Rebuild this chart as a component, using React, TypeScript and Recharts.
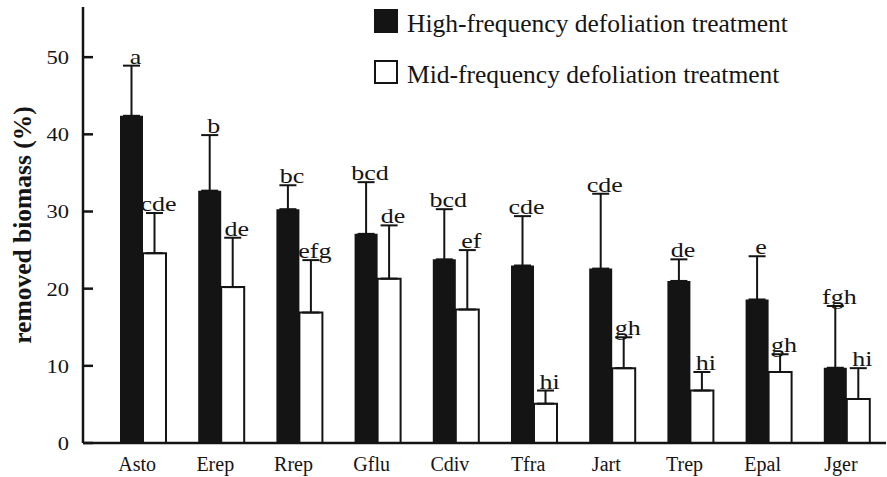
import React from 'react';
import { BarChart, Bar, XAxis, YAxis, ErrorBar, LabelList, Legend } from 'recharts';

const species = ['Asto', 'Erep', 'Rrep', 'Gflu', 'Cdiv', 'Tfra', 'Jart', 'Trep', 'Epal', 'Jger'];
const highValues = [42.4, 32.7, 30.3, 27.1, 23.8, 23.0, 22.6, 21.0, 18.6, 9.75];
const highErrors = [6.5, 7.2, 3.1, 6.7, 6.5, 6.4, 9.7, 2.8, 5.6, 8.0];
const midValues = [24.6, 20.2, 16.9, 21.3, 17.3, 5.1, 9.7, 6.8, 9.2, 5.7];
const midErrors = [5.2, 6.4, 6.8, 6.9, 7.7, 1.7, 4.0, 2.4, 2.3, 4.0];
const highLetters = ['a', 'b', 'bc', 'bcd', 'bcd', 'cde', 'cde', 'de', 'e', 'fgh'];
const midLetters = ['cde', 'de', 'efg', 'de', 'ef', 'hi', 'gh', 'hi', 'gh', 'hi'];
const yTicks = [0, 10, 20, 30, 40, 50];
const seriesNames = ['High-frequency defoliation treatment', 'Mid-frequency defoliation treatment'];
const yLabel = 'removed biomass (%)';

const data = species.map((s, i) => ({
  species: s,
  high: highValues[i],
  highErr: [0, highErrors[i]],
  mid: midValues[i],
  midErr: [0, midErrors[i]],
}));

const INK = '#141414';
const FONT = '"Liberation Serif", "Times New Roman", serif';

const makeLetterLabel = (letters: string[], values: number[], errors: number[]) => (props: any) => {
  const vb = props.viewBox && props.viewBox.x !== undefined ? props.viewBox : props;
  const idx = props.index;
  if (idx === undefined || idx === null) return null;
  const x = Number(vb.x);
  const y = Number(vb.y);
  const w = Number(vb.width);
  const h = Math.abs(Number(vb.height));
  const pxPerUnit = h / values[idx];
  const top = y - errors[idx] * pxPerUnit;
  const cx = x + w / 2 + 4;
  return (
    <text
      transform={`translate(${cx} ${top - 2}) scale(1.3 1)`}
      textAnchor="middle"
      fontFamily={FONT}
      fontSize={20}
      fill={INK}
    >
      {letters[idx]}
    </text>
  );
};

const YTick = (props: any) => {
  const { x, y, payload } = props;
  return (
    <g>
      <line x1={x} y1={y} x2={x + 10} y2={y} stroke={INK} strokeWidth={2.5} />
      <text
        transform={`translate(${x - 14} ${y + 7}) scale(1.25 1)`}
        textAnchor="end"
        fontFamily={FONT}
        fontSize={18}
        fill={INK}
      >
        {payload.value}
      </text>
    </g>
  );
};

const XTick = (props: any) => {
  const { x, y, payload } = props;
  return (
    <text x={x - 6} y={y + 28} textAnchor="middle" fontFamily={FONT} fontSize={20} fill={INK}>
      {payload.value}
    </text>
  );
};

const YLabel = (props: any) => {
  const vb = props.viewBox || { x: 0, y: 7, width: 83, height: 436 };
  const cy = vb.y + vb.height / 2;
  return (
    <text
      transform={`translate(31 ${cy}) rotate(-90)`}
      textAnchor="middle"
      fontFamily={FONT}
      fontWeight="bold"
      fontSize={25.5}
      fill={INK}
    >
      {yLabel}
    </text>
  );
};

const renderLegend = () => (
  <div style={{ position: 'relative', width: 887, height: 100, fontFamily: FONT }}>
    {seriesNames.map((name, i) => {
      const top = 9 + 51 * i;
      return (
        <React.Fragment key={name}>
          <div
            style={{
              position: 'absolute',
              left: 374,
              top,
              width: 24,
              height: 24,
              boxSizing: 'border-box',
              background: i === 0 ? INK : '#fff',
              border: `2.5px solid ${INK}`,
            }}
          />
          <div
            style={{
              position: 'absolute',
              left: 407,
              top: top + 3.4,
              fontSize: 25.5,
              lineHeight: '24px',
              whiteSpace: 'nowrap',
              color: INK,
            }}
          >
            {name}
          </div>
        </React.Fragment>
      );
    })}
  </div>
);

export default function App() {
  return (
    <div style={{ position: 'absolute', left: 0, top: 0, width: 887, height: 477, background: '#fff' }}>
      <BarChart
        width={887}
        height={477}
        data={data}
        margin={{ top: 7, right: 1, bottom: 0, left: 0 }}
        barGap={0}
        barSize={23}
      >
        <XAxis
          dataKey="species"
          height={34}
          padding={{ left: 21, right: 0 }}
          axisLine={{ stroke: INK, strokeWidth: 2.5 }}
          tickLine={false}
          tickSize={0}
          tickMargin={0}
          tick={<XTick />}
          interval={0}
        />
        <YAxis
          width={83}
          domain={[0, 56.5]}
          ticks={yTicks}
          axisLine={{ stroke: INK, strokeWidth: 2.5 }}
          tickLine={false}
          tickSize={0}
          tickMargin={0}
          tick={<YTick />}
          label={<YLabel />}
          allowDataOverflow
        />
        <Legend
          layout="vertical"
          verticalAlign="middle"
          align="center"
          content={renderLegend}
          wrapperStyle={{ position: 'absolute', left: 0, top: 0, width: 887, height: 100 }}
        />
        <Bar dataKey="high" name={seriesNames[0]} fill={INK} isAnimationActive={false}>
          <ErrorBar dataKey="highErr" width={8.5} stroke={INK} strokeWidth={2} direction="y" isAnimationActive={false} />
          <LabelList dataKey="high" content={makeLetterLabel(highLetters, highValues, highErrors)} />
        </Bar>
        <Bar dataKey="mid" name={seriesNames[1]} fill="#fff" stroke={INK} strokeWidth={2} isAnimationActive={false}>
          <ErrorBar dataKey="midErr" width={8.5} stroke={INK} strokeWidth={2} direction="y" isAnimationActive={false} />
          <LabelList dataKey="mid" content={makeLetterLabel(midLetters, midValues, midErrors)} />
        </Bar>
      </BarChart>
    </div>
  );
}
